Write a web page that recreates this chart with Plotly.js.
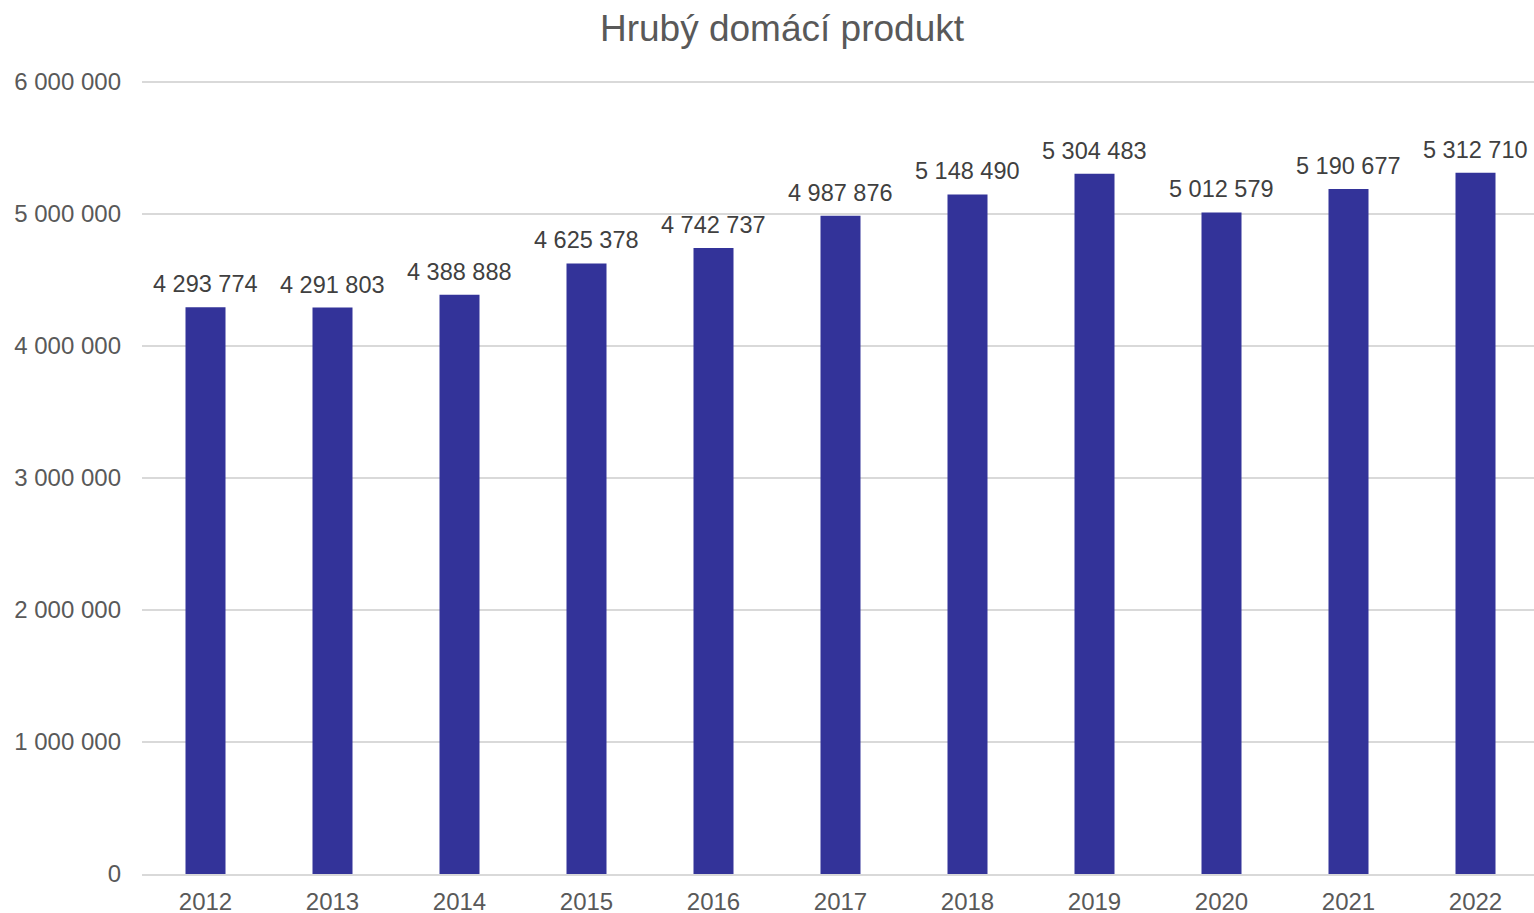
<!DOCTYPE html>
<html>
<head>
<meta charset="utf-8">
<script src="https://cdn.plot.ly/plotly-3.0.1.min.js"></script>
<style>html,body{margin:0;padding:0;background:#fff;overflow:hidden;}#chart{width:1539px;height:913px;}</style>
</head>
<body>
<div id="chart"></div>
<script>
const years = ['2012','2013','2014','2015','2016','2017','2018','2019','2020','2021','2022'];
const gdp = [4293774, 4291803, 4388888, 4625378, 4742737, 4987876, 5148490, 5304483, 5012579, 5190677, 5312710];
const yTicks = [0, 1000000, 2000000, 3000000, 4000000, 5000000, 6000000];

const FONT = '"Liberation Sans", Arial, sans-serif';

function fmt(v) {
  return String(v).replace(/\B(?=(\d{3})+(?!\d))/g, ' ');
}

const trace = {
  type: 'bar',
  x: years,
  y: gdp,
  marker: {color: '#333399'},
  hoverinfo: 'x+y'
};

// annotation x given as category index on the category axis
const annotations = years.map((yr, i) => ({
  x: i, y: gdp[i], xref: 'x', yref: 'y',
  text: fmt(gdp[i]), showarrow: false,
  xanchor: 'center', yanchor: 'bottom', yshift: 8,
  font: {family: FONT, size: 23.5, color: '#404040'}
}));

const layout = {
  width: 1539, height: 913,
  separators: ', ',
  paper_bgcolor: '#ffffff', plot_bgcolor: '#ffffff',
  font: {family: FONT, color: '#595959'},
  margin: {l: 142, r: 0, t: 81, b: 39},
  bargap: 0.685,
  showlegend: false,
  annotations: annotations,
  title: {text: 'Hrubý domácí produkt', font: {family: FONT, size: 37, color: '#595959'},
          xref: 'container', x: 782/1539, xanchor: 'center', yref: 'container', y: 1 - 28/913, yanchor: 'middle'},
  xaxis: {
    type: 'category',
    range: [-0.5, years.length - 0.5],
    tickfont: {family: FONT, size: 24, color: '#595959'},
    showgrid: false, showline: true, linecolor: '#d9d9d9', linewidth: 2,
    ticks: '', ticklabelstandoff: 5
  },
  yaxis: {
    range: [0, 6008000],
    tickvals: yTicks, tickformat: ',d',
    tickfont: {family: FONT, size: 24, color: '#595959'},
    showgrid: true, gridcolor: '#d9d9d9', gridwidth: 2,
    zeroline: false, showline: false, ticks: '', ticklabelstandoff: 20
  }
};

Plotly.newPlot('chart', [trace], layout, {displayModeBar: false, staticPlot: true});
</script>
</body>
</html>
